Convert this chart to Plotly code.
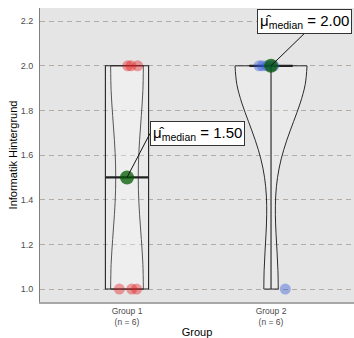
import numpy as np
import plotly.graph_objects as go

# Scores per group
groups = ["Group 1", "Group 2"]
positions = [1, 2]
group1_values = [1, 1, 1, 2, 2, 2]
group2_values = [2, 2, 2, 2, 2, 1]
# horizontal jitter applied to the raw points
group1_jitter = [-0.053, 0.033, 0.067, 0.005, 0.028, 0.074]
group2_jitter = [-0.083, -0.06, -0.03, 0.0, 0.02, 0.099]
point_colors = ["rgba(228,26,28,0.4)", "rgba(45,85,215,0.4)"]

y_ticks = [1.0, 1.2, 1.4, 1.6, 1.8, 2.0, 2.2]

values = [np.array(group1_values, float), np.array(group2_values, float)]
jitters = [group1_jitter, group2_jitter]


def bw_nrd0(x):
    hi = np.std(x, ddof=1)
    q1, q3 = np.percentile(x, [25, 75])
    lo = min(hi, (q3 - q1) / 1.34)
    if lo == 0:
        lo = hi
    return 0.9 * lo * len(x) ** (-0.2)


def kde_max(x, bw):
    grid = np.linspace(x.min(), x.max(), 512)
    d = np.exp(-0.5 * ((grid[:, None] - x[None, :]) / bw) ** 2).sum(1)
    return (d / (len(x) * bw * np.sqrt(2 * np.pi))).max()


bws = [bw_nrd0(v) for v in values]
peaks = [kde_max(v, b) for v, b in zip(values, bws)]
violin_widths = [0.5 * p / max(peaks) for p in peaks]

fig = go.Figure()

# violins (area scaled)
for pos, v, bw, w in zip(positions, values, bws, violin_widths):
    fig.add_trace(go.Violin(
        x=[pos] * len(v), y=v, bandwidth=bw, spanmode="hard", width=w,
        points=False, fillcolor="rgba(255,255,255,0.2)",
        line=dict(color="#2b2b2b", width=1), box_visible=False,
        meanline_visible=False, showlegend=False, hoverinfo="skip"))

# boxplots
for pos, v in zip(positions, values):
    fig.add_trace(go.Box(
        x=[pos] * len(v), y=v, width=0.3, boxpoints=False, whiskerwidth=0,
        fillcolor="rgba(255,255,255,0.2)", line=dict(color="#222222", width=1.1),
        quartilemethod="linear", showlegend=False, hoverinfo="skip"))

# thicker median bars
medians = [float(np.median(v)) for v in values]
for pos, m in zip(positions, medians):
    fig.add_trace(go.Scatter(
        x=[pos - 0.15, pos + 0.15], y=[m, m], mode="lines",
        line=dict(color="#222222", width=2.2), showlegend=False, hoverinfo="skip"))

# raw points
for pos, v, j, c in zip(positions, values, jitters, point_colors):
    fig.add_trace(go.Scatter(
        x=[pos + d for d in j], y=v, mode="markers",
        marker=dict(size=11, color=c, line=dict(width=0)),
        showlegend=False, hoverinfo="skip"))

# median points
fig.add_trace(go.Scatter(
    x=positions, y=medians, mode="markers",
    marker=dict(size=14, color="rgba(0,90,0,0.75)", line=dict(width=0)),
    showlegend=False, hoverinfo="skip"))

label_offsets = [dict(ax=23, ay=-44, xanchor="left", yanchor="middle"),
                 dict(ax=33, ay=-32, xanchor="center", yanchor="bottom")]
for pos, m, off in zip(positions, medians, label_offsets):
    fig.add_annotation(
        x=pos, y=m, text="\u03bc\u0302<sub>median</sub> = %.2f" % m,
        showarrow=True, arrowhead=0, arrowwidth=1, arrowcolor="#111111",
        bgcolor="white", bordercolor="#333333", borderwidth=1, borderpad=2,
        font=dict(size=15, color="black"), **off)

tick_text = ["%s<br>(n = %d)" % (g, len(v)) for g, v in zip(groups, values)]

fig.update_layout(
    width=354, height=338,
    margin=dict(l=40, r=0, t=8, b=36, autoexpand=False),
    paper_bgcolor="white", plot_bgcolor="#E5E5E5",
    font=dict(family="Liberation Sans, Arial, sans-serif", color="#4D4D4D"),
    violinmode="overlay", boxmode="overlay",
)
fig.update_xaxes(
    range=[0.396, 2.576], tickvals=positions, ticktext=tick_text,
    tickfont=dict(size=8.5, color="#4D4D4D"), showgrid=False, zeroline=False,
    showline=True, linecolor="#A8A8A8", linewidth=2, ticks="", automargin=False,
    title=dict(text="Group", font=dict(size=11, color="black"), standoff=9),
)
fig.update_yaxes(
    range=[0.942, 2.259], tickvals=y_ticks, ticktext=["%.1f" % t for t in y_ticks],
    tickfont=dict(size=9, color="#4D4D4D"), showgrid=True, gridcolor="#B3ACA6",
    griddash="5px,4px", gridwidth=1, zeroline=False,
    showline=True, linecolor="#7F7F7F", linewidth=1, ticks="", automargin=False,
    ticklabelstandoff=4,
    title=dict(text="Informatik Hintergrund", font=dict(size=11, color="black"), standoff=0),
)

fig.write_html("out.html")
